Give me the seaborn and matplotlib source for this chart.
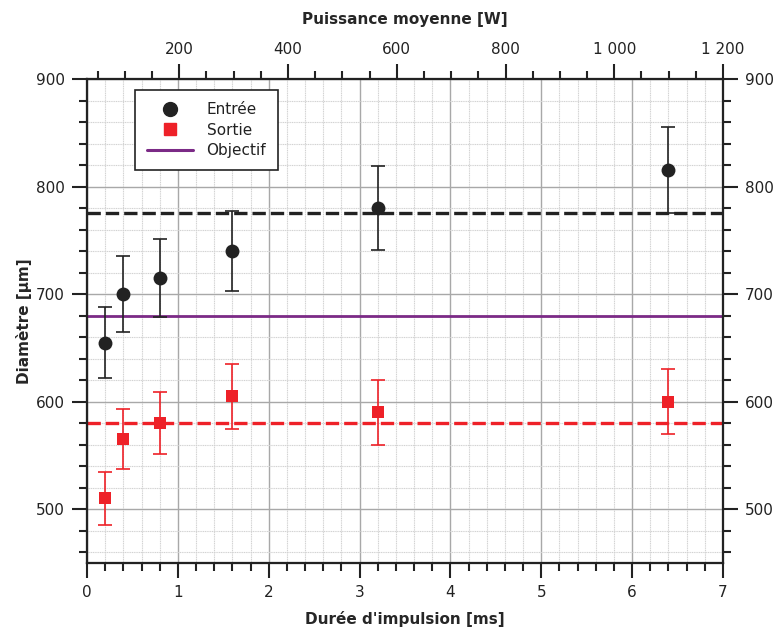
import numpy as np
import pandas as pd
import matplotlib
matplotlib.use("Agg")
import matplotlib.pyplot as plt
import seaborn as sns
from matplotlib.ticker import MultipleLocator, FixedLocator
from matplotlib.lines import Line2D

# data
duree = [0.2, 0.4, 0.8, 1.6, 3.2, 6.4]
entree = [655, 700, 715, 740, 780, 815]
entree_err = [33, 35, 36, 37, 39, 40]
sortie = [510, 565, 580, 605, 590, 600]
sortie_err = [25, 28, 29, 30, 30, 30]
moy_entree = 775
moy_sortie = 580
objectif = 680
puissance_ticks = [200, 400, 600, 800, 1000, 1200]
puissance_labels = ["200", "400", "600", "800", "1 000", "1 200"]
puissance_lim = (30.3, 1200)

BLACK = "#222222"
RED = "#ee2128"
PURPLE = "#7b2a86"

sns.set_theme(style="white")
plt.rcParams['font.family'] = ['DejaVu Sans']
plt.rcParams['axes.edgecolor'] = BLACK
plt.rcParams['text.color'] = BLACK

df = pd.DataFrame({"duree": duree, "entree": entree, "sortie": sortie})

fig = plt.figure(figsize=(7.77, 6.30), dpi=100)
ax = fig.add_axes([0.112, 0.1063, 0.8185, 0.7683])

# grid
ax.set_axisbelow(True)
ax.xaxis.set_major_locator(MultipleLocator(1))
ax.xaxis.set_minor_locator(MultipleLocator(0.2))
ax.yaxis.set_major_locator(MultipleLocator(100))
ax.yaxis.set_minor_locator(MultipleLocator(20))
ax.grid(which='major', color='#a8a8a8', lw=1.0, ls='-')
ax.grid(which='minor', color='#d2d2d2', lw=0.8, ls=(0, (1, 0.6)))

# reference lines
ax.axhline(moy_entree, color=BLACK, lw=2.4, ls=(0, (4, 1.5)), zorder=2)
ax.axhline(moy_sortie, color=RED, lw=2.4, ls=(0, (4, 1.5)), zorder=2)
ax.axhline(objectif, color=PURPLE, lw=2.0, zorder=2)

# error bars
ax.errorbar(duree, entree, yerr=entree_err, fmt='none', ecolor=BLACK,
            elinewidth=1.2, capsize=4.8, capthick=1.2, zorder=3)
ax.errorbar(duree, sortie, yerr=sortie_err, fmt='none', ecolor=RED,
            elinewidth=1.2, capsize=4.8, capthick=1.2, zorder=3)

# markers
sns.scatterplot(data=df, x="duree", y="entree", ax=ax, marker='o', s=100,
                color=BLACK, edgecolor=BLACK, linewidth=0, zorder=4)
sns.scatterplot(data=df, x="duree", y="sortie", ax=ax, marker='s', s=85,
                color=RED, edgecolor=RED, linewidth=0, zorder=4)

ax.set_xlim(0, 7)
ax.set_ylim(450, 900)
ax.set_xlabel("Durée d'impulsion [ms]", fontsize=11, fontweight='bold', labelpad=8)
ax.set_ylabel("Diamètre [µm]", fontsize=11, fontweight='bold', labelpad=3)

TICK_MAJ = dict(direction='out', length=11, width=1.5, labelsize=11,
                colors=BLACK, pad=5)
TICK_MIN = dict(direction='out', length=6, width=1.5, colors=BLACK)

ax.tick_params(which='major', left=True, bottom=True, right=False, top=False, **TICK_MAJ)
ax.tick_params(which='minor', left=True, bottom=True, right=False, top=False, **TICK_MIN)

# right axis
axr = ax.twinx()
axr.set_ylim(ax.get_ylim())
axr.yaxis.set_major_locator(MultipleLocator(100))
axr.yaxis.set_minor_locator(MultipleLocator(20))
axr.tick_params(which='major', right=True, **TICK_MAJ)
axr.tick_params(which='minor', right=True, **TICK_MIN)
axr.grid(False)

# top axis
axt = ax.twiny()
axt.set_xlim(puissance_lim)
axt.xaxis.set_major_locator(FixedLocator(puissance_ticks))
axt.set_xticklabels(puissance_labels)
axt.xaxis.set_minor_locator(MultipleLocator(50))
axt.tick_params(which='major', top=True, **TICK_MAJ)
axt.tick_params(which='minor', top=True, **TICK_MIN)
axt.grid(False)
axt.set_xlabel("Puissance moyenne [W]", fontsize=11, fontweight='bold', labelpad=13)

for a in [ax, axr, axt]:
    for s in a.spines.values():
        s.set_linewidth(1.5)
        s.set_color(BLACK)

handles = [
    Line2D([], [], marker='o', ls='none', color=BLACK, markersize=10),
    Line2D([], [], marker='s', ls='none', color=RED, markersize=9),
    Line2D([], [], color=PURPLE, lw=2.2),
]
leg = ax.legend(handles, ["Entrée", "Sortie", "Objectif"], loc='upper left',
                bbox_to_anchor=(0.075, 0.977), fontsize=11, frameon=True,
                fancybox=False, edgecolor=BLACK, framealpha=1,
                handlelength=3.0, handletextpad=0.9, borderpad=0.8,
                labelspacing=0.35, borderaxespad=0)
leg.get_frame().set_linewidth(1.2)
leg.set_zorder(10)

fig.savefig("out.png", dpi=100)
